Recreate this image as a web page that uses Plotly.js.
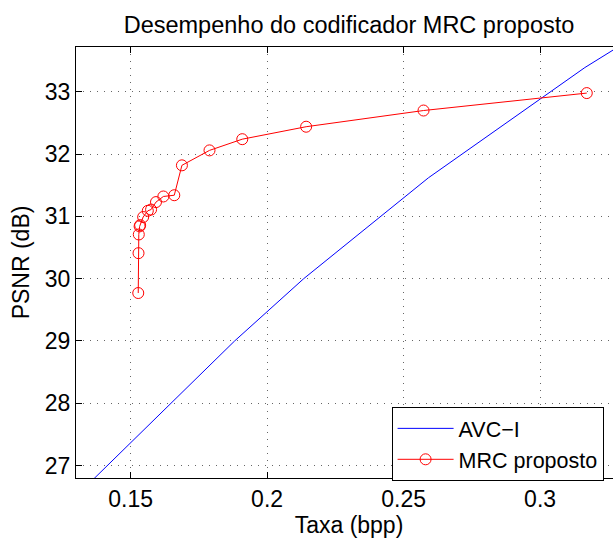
<!DOCTYPE html>
<html>
<head>
<meta charset="utf-8">
<script src="https://cdn.plot.ly/plotly-3.0.1.min.js"></script>
<style>
html,body{margin:0;padding:0;overflow:hidden;background:#fff;width:613px;height:540px;}
#chart{width:630px;height:540px;}
</style>
</head>
<body>
<div id="chart"></div>
<script>
// AVC-I reference curve
const avcRate = [0.1366, 0.1881, 0.2134, 0.2591, 0.3164, 0.3300];
const avcPsnr = [26.79, 29.00, 30.00, 31.62, 33.39, 33.76];
// proposed MRC coder
const mrcRate = [0.1528, 0.1529, 0.1530, 0.1533, 0.1535, 0.1546, 0.1563, 0.1575, 0.1593, 0.1620, 0.1660, 0.1688, 0.1789, 0.1909, 0.2143, 0.2573, 0.3171];
const mrcPsnr = [29.77, 30.41, 30.71, 30.84, 30.86, 30.99, 31.09, 31.11, 31.23, 31.32, 31.34, 31.82, 32.06, 32.24, 32.44, 32.70, 32.98];
const seriesNames = ["AVC\u2212I", "MRC proposto"];
const xTicks = [0.15, 0.2, 0.25, 0.3];
const xTickText = ["0.15", "0.2", "0.25", "0.3"];
const yTicks = [27, 28, 29, 30, 31, 32, 33];

const FONT = "Liberation Sans, Arial, Helvetica, sans-serif";

const traces = [
  {x: avcRate, y: avcPsnr, name: seriesNames[0], mode: "lines", type: "scatter",
   line: {color: "#0000ff", width: 1}},
  {x: mrcRate, y: mrcPsnr, name: seriesNames[1], mode: "lines+markers", type: "scatter",
   line: {color: "#ff0000", width: 1},
   marker: {symbol: "circle-open", size: 11, color: "#ff0000", line: {width: 1, color: "#ff0000"}}}
];

const axisCommon = {
  showline: true, linecolor: "#000", linewidth: 1, mirror: "ticks",
  ticks: "inside", ticklen: 6, tickcolor: "#000", tickwidth: 1,
  showgrid: true, gridcolor: "#666", griddash: "1px,6px", gridwidth: 1,
  zeroline: false, tickfont: {family: FONT, size: 23, color: "#000"}
};

const layout = {
  width: 630, height: 540,
  margin: {l: 76, r: 8, t: 47, b: 62},
  paper_bgcolor: "#fff", plot_bgcolor: "#fff",
  font: {family: FONT, size: 23, color: "#000"},
  title: {text: "Desempenho do codificador MRC proposto", x: 0.5, xref: "paper",
          y: 0.955, yanchor: "middle", font: {family: FONT, size: 23.5, color: "#000"}},
  xaxis: Object.assign({}, axisCommon, {
    range: [0.13, 0.33], tickvals: xTicks, ticktext: xTickText,
    title: {text: "Taxa (bpp)", font: {family: FONT, size: 23, color: "#000"}, standoff: 4}
  }),
  yaxis: Object.assign({}, axisCommon, {
    range: [26.8, 33.72], tickvals: yTicks,
    title: {text: "PSNR (dB)", font: {family: FONT, size: 23, color: "#000"}, standoff: 8}
  }),
  showlegend: true,
  legend: {x: 0.578, y: 0.165, xanchor: "left", yanchor: "top",
           bgcolor: "#fff", bordercolor: "#000", borderwidth: 1,
           font: {family: FONT, size: 21.5, color: "#000"}, itemwidth: 56,
           tracegroupgap: 0}
};

Plotly.newPlot("chart", traces, layout, {displayModeBar: false, staticPlot: true});
</script>
</body>
</html>
